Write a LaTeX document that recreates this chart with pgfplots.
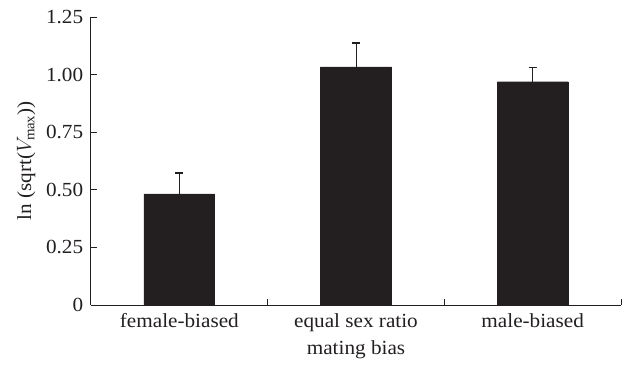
\documentclass[border=0pt]{standalone}
\usepackage{pgfplots}
\pgfplotsset{compat=1.18}
\usepackage{fontspec}
\setmainfont{Liberation Serif}[FakeStretch=1.06]
\definecolor{barc}{HTML}{231F20}
\begin{document}
\fontsize{20pt}{23pt}\selectfont
\begin{tikzpicture}
\useasboundingbox (-91pt,-60pt) rectangle (538pt,305pt);
\begin{axis}[
  at={(0,0)}, anchor=south west,
  scale only axis, width=530pt, height=288pt,
  xmin=-0.5, xmax=2.5, ymin=0, ymax=1.25,
  axis x line*=bottom, axis y line*=left,
  axis line style={barc, line width=1pt},
  tick style={barc, line width=1pt},
  major tick length=6pt,
  tick align=inside,
  xtick={0.5,1.5,2.5}, xticklabels={},
  extra x ticks={0,1,2},
  extra x tick labels={female-biased, equal sex ratio, male-biased},
  extra x tick style={major tick length=0pt},
  ytick={0,0.25,0.5,0.75,1,1.25},
  yticklabels={0,0.25,0.50,0.75,1.00,1.25},
  ticklabel style={font=\fontsize{20pt}{23pt}\selectfont, text=barc},
  label style={font=\fontsize{20pt}{23pt}\selectfont, text=barc},
  /pgf/number format/assume math mode=true,
  xlabel={mating bias},
  ylabel={ln (sqrt($V_{\scriptstyle\mathrm{max}}$))},
  xlabel style={yshift=5pt},
  ylabel style={yshift=-3pt},
  x tick label style={yshift=-2pt},
  y tick label style={xshift=-1pt},
]
\addplot[ybar, bar width=0.4, fill=barc, draw=barc,
  error bars/.cd, y dir=plus, y explicit,
  error bar style={barc, line width=1pt},
  error mark options={rotate=90, mark size=4pt, barc, line width=1.5pt}]
  coordinates {
    (0,0.482) +- (0,0.090)
    (1,1.033) +- (0,0.104)
    (2,0.969) +- (0,0.061)
  };
\end{axis}
\end{tikzpicture}
\end{document}
